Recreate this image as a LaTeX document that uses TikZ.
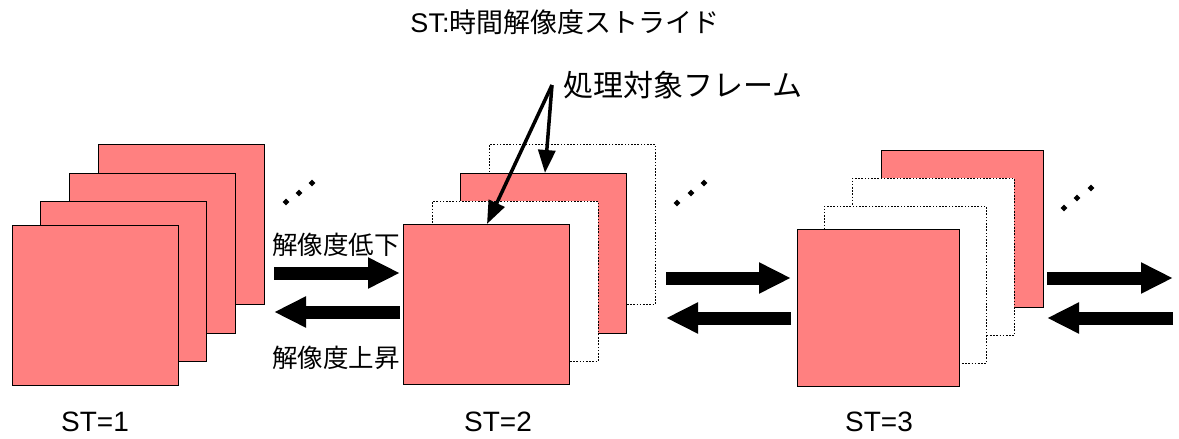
\documentclass[tikz,border=0pt]{standalone}
\usepackage{fontspec}
\setmainfont{Liberation Sans}
\newfontfamily\jp{Noto Sans CJK JP}
\usetikzlibrary{arrows.meta,calc}
\definecolor{fr}{HTML}{FF8080}
\tikzset{
  frame/.style={draw, fill=fr, line width=0.8pt, anchor=north west, inner sep=0pt,
    minimum width=166pt, minimum height=160pt},
  ghost/.style={frame, fill=white, dash pattern=on 1.6pt off 1.6pt, line width=0.7pt},
  small/.style={minimum width=162pt, minimum height=157pt},
  blockarrow/.style={line width=13pt, -{Triangle[length=32pt,width=29pt]}},
  pointer/.style={line width=3.5pt, -{Triangle[length=23pt,width=17pt]}},
  jplabel/.style={font=\jp\fontsize{25.5}{28}\selectfont, inner sep=0pt},
  stlabel/.style={font=\fontsize{28}{30}\selectfont, inner sep=0pt}
}
\newcommand{\dotmark}[2]{\fill (#1,#2) +(0,-3.3) -- +(3.3,0) -- +(0,3.3) -- +(-3.3,0) -- cycle;}
\begin{document}
\begin{tikzpicture}[x=1pt,y=-1pt]
\useasboundingbox (0,0) rectangle (1179,439);
% title
\node[inner sep=0pt, font=\fontsize{27}{30}\selectfont] (title) at (565,22) {ST:{\jp 時間解像度ストライド}};
% group 1
\node[frame] (g1d) at (98,144) {};
\node[frame] (g1c) at (69,173) {};
\node[frame] (g1b) at (40,201) {};
\node[frame] (g1a) at (12,225) {};
% group 2
\node[ghost] (g2d) at (489,144) {};
\node[frame] (g2c) at (460,173) {};
\node[ghost] (g2b) at (432,201) {};
\node[frame] (g2a) at (403,224) {};
% group 3
\node[frame,small] (g3d) at (881,150) {};
\node[ghost,small] (g3c) at (852,178) {};
\node[ghost,small] (g3b) at (824,206) {};
\node[frame,small] (g3a) at (797,229) {};
% dots
\dotmark{286}{202}\dotmark{299}{193}\dotmark{312}{183}
\dotmark{677}{203}\dotmark{691}{193}\dotmark{704}{183}
\dotmark{1064}{208}\dotmark{1077}{198}\dotmark{1091}{188}
% block arrows
\coordinate (a1l) at (274,273); \coordinate (a1r) at (400,273);
\coordinate (b1l) at (274,312); \coordinate (b1r) at (400,312);
\coordinate (a2l) at (666,278); \coordinate (a2r) at (791,278);
\coordinate (b2l) at (666,318); \coordinate (b2r) at (791,318);
\coordinate (a3l) at (1047,278); \coordinate (a3r) at (1173,278);
\coordinate (b3l) at (1047,318); \coordinate (b3r) at (1173,318);
\draw[blockarrow] (a1l) -- (a1r);
\draw[blockarrow] (b1r) -- (b1l);
\draw[blockarrow] (a2l) -- (a2r);
\draw[blockarrow] (b2r) -- (b2l);
\draw[blockarrow] (a3l) -- (a3r);
\draw[blockarrow] (b3r) -- (b3l);
% labels
\node[jplabel] (down) at (336,245) {解像度低下};
\node[jplabel] (up) at (336,358) {解像度上昇};
\node[inner sep=0pt, anchor=west, font=\jp\fontsize{30}{32}\selectfont] (target) at (563,85) {処理対象フレーム};
\coordinate (ptail) at (552,85);
\draw[pointer] (ptail) -- ([xshift=84pt]g2a.north west);
\draw[pointer] (ptail) -- ([xshift=85pt]g2c.north west);
% ST labels
\node[stlabel] (st1) at (95,422) {ST=1};
\node[stlabel] (st2) at (498,422) {ST=2};
\node[stlabel] (st3) at (879,422) {ST=3};
\end{tikzpicture}
\end{document}
